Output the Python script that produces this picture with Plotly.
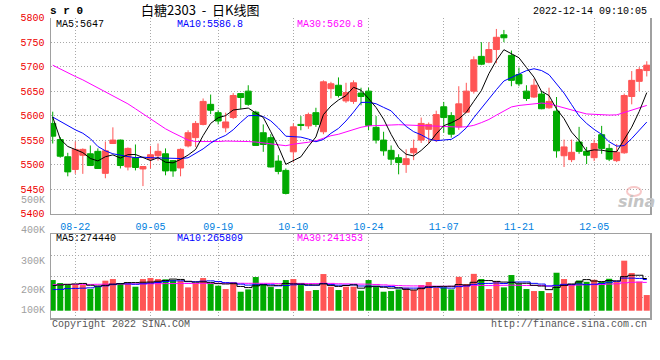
import plotly.graph_objects as go

# ---------------- data ----------------
dates = ["08-17","08-18","08-19","08-22","08-23","08-24","08-25","08-26","08-29","08-30","08-31",
         "09-01","09-02","09-05","09-06","09-07","09-08","09-09","09-13","09-14","09-15","09-16",
         "09-19","09-20","09-21","09-22","09-23","09-26","09-27","09-28","09-29","09-30",
         "10-10","10-11","10-12","10-13","10-14","10-17","10-18","10-19","10-20","10-21",
         "10-24","10-25","10-26","10-27","10-28","10-31","11-01","11-02","11-03","11-04",
         "11-07","11-08","11-09","11-10","11-11","11-14","11-15","11-16","11-17","11-18",
         "11-21","11-22","11-23","11-24","11-25","11-28","11-29","11-30","12-01","12-02",
         "12-05","12-06","12-07","12-08","12-09","12-12","12-13","12-14"]

open_ = [5584,5551,5516,5490,5519,5522,5527,5482,5543,5550,5495,5514,5491,5511,5518,5522,5508,5493,5538,5555,
         5582,5623,5606,5575,5596,5645,5650,5607,5565,5555,5507,5488,5526,5582,5579,5606,5567,5655,5662,5630,
         5629,5646,5650,5576,5550,5529,5514,5500,5524,5550,5572,5550,5618,5600,5577,5607,5650,5721,5709,5735,
         5765,5723,5684,5650,5638,5644,5616,5609,5518,5510,5546,5527,5514,5561,5533,5508,5524,5639,5670,5692]
high = [5608,5556,5524,5547,5533,5539,5533,5547,5576,5551,5535,5541,5497,5538,5543,5533,5509,5533,5570,5589,
        5635,5643,5611,5606,5646,5646,5662,5610,5582,5562,5519,5492,5584,5599,5606,5616,5672,5669,5678,5667,
        5672,5657,5657,5599,5567,5539,5521,5531,5551,5596,5586,5610,5628,5607,5660,5667,5721,5750,5750,5777,
        5775,5733,5698,5662,5675,5650,5657,5638,5551,5551,5577,5536,5551,5579,5542,5542,5645,5691,5699,5711]
low = [5543,5514,5476,5481,5481,5497,5491,5472,5542,5492,5488,5488,5456,5492,5508,5478,5475,5476,5535,5536,
       5580,5603,5582,5566,5593,5614,5620,5538,5526,5494,5480,5439,5505,5570,5573,5577,5562,5635,5637,5626,
       5624,5621,5570,5543,5518,5499,5480,5483,5509,5544,5543,5546,5565,5555,5571,5605,5645,5703,5707,5707,
       5750,5660,5660,5630,5636,5613,5614,5514,5495,5505,5522,5501,5507,5522,5507,5505,5522,5623,5650,5680]
close = [5558,5517,5485,5531,5531,5498,5492,5528,5550,5498,5533,5494,5496,5520,5527,5487,5487,5531,5565,5584,
         5629,5611,5589,5587,5641,5637,5623,5539,5541,5495,5486,5441,5577,5580,5602,5582,5669,5665,5641,5647,
         5667,5639,5580,5550,5528,5511,5504,5512,5533,5584,5582,5602,5596,5562,5624,5650,5714,5705,5735,5760,
         5759,5672,5665,5635,5662,5614,5629,5528,5536,5525,5527,5519,5543,5533,5511,5525,5641,5672,5694,5703]

ma5 = [5597,5552,5537,5531,5524.4,5512.4,5507.4,5516.0,5519.8,5513.2,5520.2,5520.6,5514.2,5508.2,5514.0,5504.8,
       5503.4,5510.4,5519.4,5530.8,5559.2,5584.0,5595.6,5600.0,5611.4,5613.0,5615.4,5605.4,5596.2,5567.0,5536.8,
       5500.4,5508.0,5515.8,5537.2,5556.4,5602.0,5619.6,5631.8,5640.8,5657.8,5651.8,5634.8,5616.6,5592.8,5561.6,
       5534.6,5521.0,5517.6,5528.8,5543.0,5562.6,5579.4,5585.2,5593.2,5606.8,5629.2,5651.0,5685.6,5712.8,5734.6,
       5726.2,5718.2,5698.2,5678.6,5649.6,5641.0,5613.6,5593.8,5566.4,5549.0,5527.0,5530.0,5529.4,5526.6,5526.2,
       5550.6,5576.4,5608.6,5647.0]
ma10 = [5597,5588,5580,5571,5564,5553,5537,5528,5522,5518.8,5516.3,5514.0,5515.1,5514.0,5513.6,5512.5,5512.0,
        5512.3,5513.8,5522.4,5532.0,5543.7,5553.0,5559.7,5571.1,5586.1,5599.7,5600.5,5598.1,5589.2,5574.9,5557.9,
        5556.7,5556.0,5552.1,5546.6,5551.2,5563.8,5573.8,5589.0,5607.1,5626.9,5627.2,5624.2,5616.8,5609.7,5593.2,
        5577.9,5567.1,5560.8,5552.3,5548.6,5550.2,5551.4,5561.0,5574.9,5595.9,5615.2,5635.4,5653.0,5670.7,5677.7,
        5684.6,5691.9,5695.7,5692.1,5683.6,5665.9,5646.0,5622.5,5599.3,5584.0,5571.8,5561.6,5546.5,5537.6,5538.8,
        5553.2,5569.0,5586.8]
ma30 = [5703,5695,5688,5680,5673,5665,5657,5649,5641,5633,5624,5614,5604,5594,5584,5573,5565,5557,5550,5547,
        5547,5546,5547,5548,5548,5548,5547,5546,5544,5543.5,5541.1,5538.5,5541.6,5543.2,5545.6,5548.4,5554.3,
        5558.9,5561.9,5566.9,5571.3,5576.2,5579.0,5580.0,5580.0,5580.8,5581.4,5580.7,5579.7,5579.7,5578.1,5577.8,
        5578.0,5577.2,5576.6,5577.1,5580.1,5585.6,5592.1,5600.9,5610.0,5617.7,5620.7,5622.5,5624.5,5625.6,5624.2,
        5619.7,5616.2,5612.1,5607.4,5603.4,5602.2,5601.6,5601.1,5601.5,5606.1,5611.4,5616.8,5620.8]

volume = [261400,235800,227300,218800,218800,184700,204600,255700,269900,235800,233000,204600,269900,278400,
          269900,267100,261400,255700,198900,233000,278400,230100,213100,184700,244300,161900,181800,286900,
          227300,201700,184700,261400,269900,218800,167600,176100,312500,204600,176100,204600,204600,170500,
          261400,201700,161900,167600,181800,196000,176100,218800,244300,198900,198900,181800,288400,227300,
          314000,269900,184700,252800,198900,304000,227300,184700,167600,167600,150600,323600,269900,227300,
          257700,246300,263400,246300,272190,244300,426200,321000,247200,133500]
vma5 = [215000,220000,225000,228000,232420,217080,210840,216520,226740,230140,239800,239800,242640,244340,
        251160,257980,269340,266500,250600,243220,245480,239220,230700,227860,230120,206820,197160,211920,
        220440,211920,216480,232400,229000,227300,220480,218760,228980,215920,207380,214780,220480,192080,
        203440,208560,200020,192620,194880,181800,176680,188060,203400,206820,207400,208540,222460,219060,
        242080,256280,256860,249740,244060,242060,233540,233540,216500,210240,179560,198820,215860,227800,
        245820,264960,252920,248200,257180,254500,290480,302000,302180,274440]
vma10 = [180000,182000,188000,190000,192000,195000,205000,212000,222000,231280,228440,225320,229580,235540,
         240650,248890,254570,254570,247470,247190,251730,254280,248600,239230,236670,226150,218190,221310,
         224150,221020,211650,214780,220460,223870,216200,217620,230690,222460,217340,217630,219620,210530,
         209680,207970,207400,206550,193480,192620,192620,194040,198010,200850,194600,192610,205260,211230,
         224450,231840,232700,236100,231560,242070,244910,245200,233120,227150,210810,216180,224700,222150,
         228030,222260,225870,232030,242490,250160,277720,277460,275190,265809]
vma30 = [221500,222300,222800,223900,224600,224100,225200,226000,226800,227100,227900,228600,228200,229300,
         230100,231000,231400,232200,232000,232900,233500,233100,233800,234200,233600,233900,233400,233700,
         233300,233163,230607,231460,232880,232880,231173,230887,234483,232780,229653,228613,227667,226530,
         226247,223690,220090,216773,214120,212130,211370,210897,209760,208720,208247,208150,209620,211800,
         216207,215640,214220,215923,216397,217817,216397,215260,215260,214977,209580,213547,216673,217430,
         219200,221727,221793,223283,226957,229513,237660,241827,244197,241353]

date_ticks = ["08-22","09-05","09-19","10-10","10-24","11-07","11-21","12-05"]
price_ticks = [5400,5450,5500,5550,5600,5650,5700,5750,5800]
vol_tick_labels = ["500K","400K","300K","200K","100K"]

# ---------------- style ----------------
UP, DOWN = "#FF5555", "#00AA00"
GRID = "#A8A8A8"
BORDER = "#A0A0A0"
MONO = "Liberation Mono, DejaVu Sans Mono, monospace"
CJK = "Noto Sans CJK SC, sans-serif"

W, H = 660, 360
ML, MR, MT, MB = 51, 10, 17, 42
PW, PH = W - ML - MR, H - MT - MB


def px(x):
    return (x - ML) / PW


def py(y):
    return (H - MB - y) / PH


fig = go.Figure()

fig.add_trace(go.Candlestick(
    x=dates, open=open_, high=high, low=low, close=close,
    increasing=dict(line=dict(color=UP, width=1), fillcolor=UP),
    decreasing=dict(line=dict(color=DOWN, width=1), fillcolor=DOWN),
    whiskerwidth=0, xaxis="x", yaxis="y", hoverinfo="skip", showlegend=False))

for vals, col in ((ma30, "#FF00FF"), (ma10, "#0000FF"), (ma5, "#000000")):
    fig.add_trace(go.Scatter(x=dates, y=vals, mode="lines", line=dict(color=col, width=1),
                             xaxis="x", yaxis="y", hoverinfo="skip", showlegend=False))

vol_colors = [UP if c >= o else DOWN for o, c in zip(open_, close)]
fig.add_trace(go.Bar(x=dates, y=volume, marker=dict(color=vol_colors, line=dict(width=0)),
                     xaxis="x2", yaxis="y2", hoverinfo="skip", showlegend=False))
for vals, col in ((vma30, "#FF00FF"), (vma10, "#0000FF"), (vma5, "#000000")):
    fig.add_trace(go.Scatter(x=dates, y=vals, mode="lines", line=dict(color=col, width=1, shape="hvh"),
                             xaxis="x2", yaxis="y2", hoverinfo="skip", showlegend=False))

xrange = [-0.23, 79.43]
common_x = dict(type="category", range=xrange, tickmode="array", tickvals=date_ticks,
                showgrid=True, gridcolor=GRID, griddash="1px,2px", gridwidth=1,
                showline=True, linecolor=BORDER, linewidth=1.5, zeroline=False, fixedrange=True,
                automargin=False)

fig.update_layout(
    width=W, height=H,
    margin=dict(l=ML, r=MR, t=MT, b=MB, pad=0, autoexpand=False),
    paper_bgcolor="white", plot_bgcolor="white",
    bargap=0.2, boxgap=0.2, boxgroupgap=0,
    showlegend=False,
    xaxis=dict(common_x, domain=[0, 1], anchor="y", ticktext=date_ticks,
               tickfont=dict(family=MONO, size=10, color="#0080E0"),
               ticks="outside", ticklen=3, tickcolor="rgba(0,0,0,0)",
               rangeslider=dict(visible=False)),
    xaxis2=dict(common_x, domain=[0, 1], anchor="y2", showticklabels=False, mirror=True),
    yaxis=dict(domain=[py(213.5), py(17.7)], range=[5400, 5800], tickmode="array",
               tickvals=price_ticks, ticktext=[str(v) for v in price_ticks],
               tickfont=dict(family=MONO, size=10, color="#EE0000"),
               ticks="outside", ticklen=3, tickcolor="rgba(0,0,0,0)",
               showgrid=True, gridcolor=GRID, griddash="1px,2px", gridwidth=1,
               showline=True, mirror=True, linecolor=BORDER, linewidth=1.5,
               zeroline=False, fixedrange=True, automargin=False),
    yaxis2=dict(domain=[0, py(234.3)], range=[-62000, 651000], tickmode="linear",
                tick0=-62000, dtick=178250, showticklabels=False,
                showgrid=True, gridcolor=GRID, griddash="1px,2px", gridwidth=1,
                showline=True, mirror=True, linecolor=BORDER, linewidth=1.5,
                zeroline=False, fixedrange=True, automargin=False),
)

anns = []


def ann(text, x, y, color="#000000", size=10, xanchor="left", family=MONO, **fk):
    anns.append(dict(text=text, x=px(x), y=py(y), xref="paper", yref="paper",
                     xanchor=xanchor, yanchor="middle", showarrow=False,
                     font=dict(family=family, size=size, color=color, **fk)))


ann("s r 0", 48, 11, size=11, weight="bold")
ann("白糖2303\u00a0\u00a0-\u00a0\u00a0日K线图", 200, 10, size=13, xanchor="center", family=CJK)
ann("2022-12-14 09:10:05", 649, 11, xanchor="right")

ann(f"MA5:{ma5[-1]:.0f}", 54, 24)
ann(f"MA10:{ma10[-1]:.1f}", 175, 24, color="#0000FF")
ann(f"MA30:{ma30[-1]:.1f}", 295, 24, color="#FF00FF")

ann(f"MA5:{vma5[-1]:.0f}", 54, 238.5)
ann(f"MA10:{vma10[-1]:.0f}", 175, 238.5, color="#0000FF")
ann(f"MA30:{vma30[-1]:.0f}", 295, 238.5, color="#FF00FF")

for lab, ypix in zip(vol_tick_labels, [200.7, 230.7, 261, 290.3, 310]):
    ann(lab, 47, ypix, color="#A0A0A0", xanchor="right")

ann("Copyright 2022 SINA.COM", 50, 324, color="#555555")
ann("http://finance.sina.com.cn", 649, 324, color="#555555", xanchor="right")

# sina watermark
ann("sina", 636, 202, color="#C4C4C4", size=16, xanchor="center",
    family="DejaVu Sans, sans-serif", style="italic", weight="bold")

fig.update_layout(annotations=anns)
fig.add_shape(type="circle", xref="paper", yref="paper",
              x0=px(627), x1=px(641), y0=py(196), y1=py(187),
              line=dict(color="rgba(235,120,120,0.4)", width=2))

fig.write_html("out.html", config={"displayModeBar": False, "staticPlot": True},
               post_script="document.body.style.margin='0';document.body.style.overflow='hidden';")
